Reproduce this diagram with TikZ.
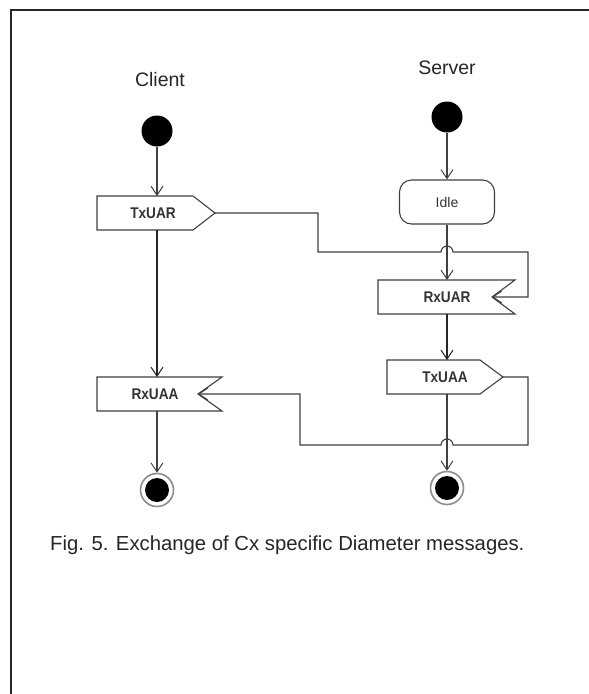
\documentclass[tikz,border=0pt]{standalone}
\usepackage{fontspec}
\setmainfont{Liberation Sans}
\newfontfamily\lblfont[FakeStretch=0.88]{Liberation Sans}
\usetikzlibrary{arrows.meta}
\begin{document}
\begin{tikzpicture}[x=1pt,y=-1pt,
  ln/.style={draw=black!75, line width=1.1pt},
  heavyln/.style={draw=black!85, line width=1.8pt},
  arr/.style={-{Straight Barb[length=9pt,width=12pt,line width=1pt]}},
  box/.style={draw=black!75, line width=1.1pt, fill=white},
  lbl/.style={font=\lblfont\fontsize{15.5}{17}\selectfont\bfseries, text=black!80, inner sep=0},
  startdot/.style={circle, fill=black, minimum size=31pt, inner sep=0},
  enddot/.style={circle, draw=black!45, line width=1.6pt, minimum size=33pt, inner sep=0},
  title/.style={font=\fontsize{19.5}{22}\selectfont, text=black!85},
  ]
\useasboundingbox (0,0) rectangle (589,694);
\fill[white] (0,0) rectangle (589,694);
\draw[black!85, line width=2pt] (11,700) -- (11,10) -- (600,10);

% titles
\node[title] (client) at (160,80) {Client};
\node[title] (server) at (447,68) {Server};

% start dots
\node[startdot] (cs) at (157,131) {};
\node[startdot] (ss) at (447,117) {};

% TxUAR (client)
\draw[box] (97,196) -- (193,196) -- (215,213) -- (193,230) -- (97,230) -- cycle;
\node[lbl] (txuar) at (153,213) {TxUAR};
\coordinate (txuarT) at (157,196);
\coordinate (txuarB) at (157,230);
\coordinate (txuarP) at (215,213);

% RxUAA (client)
\draw[box] (97,377) -- (222,377) -- (198,394) -- (222,411) -- (97,411) -- cycle;
\node[lbl] (rxuaa) at (155,394) {RxUAA};
\coordinate (rxuaaT) at (157,377);
\coordinate (rxuaaB) at (157,411);
\coordinate (rxuaaN) at (198,394);

% Idle (server)
\node[draw=black!75, line width=1.1pt, rounded corners=12pt, minimum width=95pt, minimum height=44pt,
  font=\fontsize{14}{16}\selectfont, text=black!80] (idle) at (447,202) {Idle};

% RxUAR (server)
\draw[box] (378,280) -- (515,280) -- (492,297) -- (515,314) -- (378,314) -- cycle;
\node[lbl] (rxuar) at (447,297) {RxUAR};
\coordinate (rxuarT) at (447,280);
\coordinate (rxuarB) at (447,314);
\coordinate (rxuarN) at (492,297);

% TxUAA (server)
\draw[box] (387,360) -- (480,360) -- (503,377) -- (480,394) -- (387,394) -- cycle;
\node[lbl] (txuaa) at (445,377) {TxUAA};
\coordinate (txuaaT) at (447,360);
\coordinate (txuaaB) at (447,394);
\coordinate (txuaaP) at (503,377);

% end dots
\node[enddot] (ce) at (157,490) {};
\fill[black] (ce) circle (12pt);
\node[enddot] (se) at (447,488) {};
\fill[black] (se) circle (12pt);

% client flow
\draw[ln,arr] (cs) -- (txuarT);
\draw[heavyln,arr] (txuarB) -- (rxuaaT);
\draw[ln,arr] (rxuaaB) -- (ce.north);

% server flow
\draw[ln,arr] (ss) -- (idle.north);
\draw[ln,arr] (idle.south) -- (rxuarT);
\draw[heavyln,arr] (rxuarB) -- (txuaaT);
\draw[ln,arr] (txuaaB) -- (se.north);

% messages
\draw[ln,arr] (txuarP) -- (318,213) -- (318,252) -- (441,252) arc[start angle=180, end angle=360, radius=6]
  -- (528,252) -- (528,297) -- (rxuarN);
\draw[ln,arr] (txuaaP) -- (528,377) -- (528,445) -- (453,445) arc[start angle=0, end angle=-180, radius=6]
  -- (300,445) -- (300,394) -- (rxuaaN);

% caption
\node[anchor=west, font=\fontsize{20.3}{24}\selectfont, text=black!85, inner sep=0] (cap) at (50,545)
  {Fig. 5. Exchange of Cx specific Diameter messages.};
\end{tikzpicture}
\end{document}
